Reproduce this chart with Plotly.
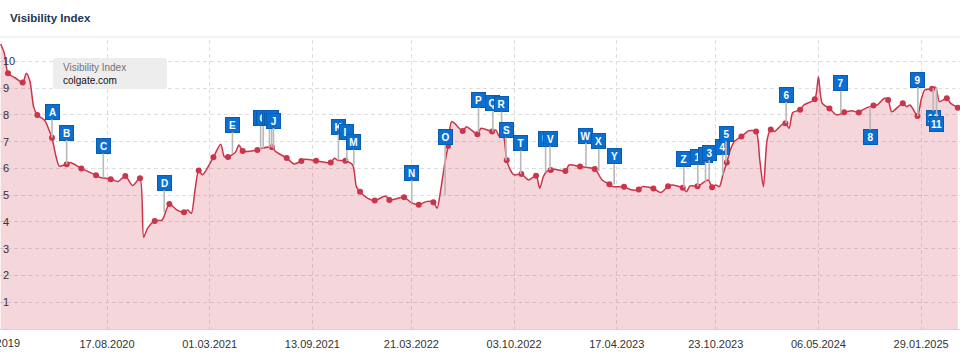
import plotly.graph_objects as go

# ---------------- data ----------------
# x = week index on the chart's (non-linear in time) category-like axis
weeks = [0, 1, 2, 4, 6, 7, 8, 9, 10, 12, 13, 14, 15, 16, 18, 19, 22, 26, 27, 30, 32, 34, 36, 38, 39, 40,
         42, 44, 46, 48, 50, 51, 52, 53, 54, 55, 58, 60, 61, 62, 63, 64, 65, 66, 70, 71, 74, 75, 78, 80,
         82, 83, 86, 90, 91, 92, 94, 96, 97, 98, 100, 102, 105, 106, 110, 112, 114, 116, 118, 119, 120,
         121, 122, 123, 126, 127, 130, 131, 134, 135, 136, 137, 138, 139, 140, 142, 144, 146, 147, 148,
         149, 150, 151, 154, 155, 158, 162, 164, 166, 167, 170, 172, 174, 175, 178, 180, 182, 183, 186,
         187, 188, 190, 192, 193, 194, 195, 196, 197, 198, 199, 200, 202, 204, 206, 207, 208, 209, 210,
         211, 213, 214, 215, 216, 218, 219, 222, 223, 224, 226, 228, 230, 232, 234, 235, 238, 239, 241,
         242, 243, 246, 247, 248, 250, 251, 252, 254, 255, 256, 258, 259, 261]
values = [10.65, 10.3, 9.56, 9.38, 9.21, 9.56, 9.25, 8.3, 8.0, 7.8, 7.5, 7.15, 6.5, 6.09, 6.16, 6.22,
          6.0, 5.75, 5.67, 5.6, 5.51, 5.72, 5.36, 5.63, 3.43, 3.75,
          4.04, 4.07, 4.67, 4.45, 4.36, 4.45, 4.32, 5.2, 5.92, 5.76, 6.42, 6.9, 6.44, 6.43, 6.5, 6.6,
          6.88, 6.65, 6.69, 6.75, 6.79, 6.63, 6.39, 6.17,
          6.28, 6.34, 6.29, 6.22, 6.38, 6.3, 6.29, 6.13, 5.32, 5.13, 4.89, 4.80, 4.97, 4.82, 4.92,
          4.72, 4.64, 4.76, 4.74, 4.51, 5.2,
          6.1, 6.84, 7.75, 7.40, 7.56, 7.28, 7.50, 7.38, 7.44, 7.19, 7.25, 6.31, 5.94, 5.76, 5.79,
          5.57, 5.73, 5.26, 5.7,
          5.9, 5.94, 5.97, 5.90, 6.13, 6.07, 5.98, 5.57, 5.41, 5.32, 5.32, 5.20, 5.21, 5.32, 5.25,
          5.10, 5.33, 5.38, 5.28,
          5.13, 5.35, 5.33, 5.51, 5.57, 5.30, 5.38, 5.32, 5.8, 6.22, 6.7, 7.0, 7.19, 7.41, 7.38,
          6.32, 5.32, 7.07, 7.46,
          7.38, 7.63, 7.69, 7.50, 8.09, 8.19, 8.37, 8.59, 9.43, 8.44, 8.24, 8.0, 8.10, 8.16, 8.09,
          8.19, 8.35, 8.37, 8.62,
          8.56, 8.12, 8.44, 8.31, 8.37, 7.96, 8.56, 8.93, 8.98, 9.03, 8.50, 8.62, 8.44, 8.27]

# weeks that carry a visible data dot
dot_weeks = [2, 6, 10, 14, 18, 22, 26, 30, 34, 38, 42, 46, 50, 54, 58, 62, 66, 70, 74, 78, 82, 86,
             90, 94, 98, 102, 106, 110, 114, 118, 122, 126, 130, 134, 138, 142, 146, 150, 154, 158,
             162, 166, 170, 174, 178, 182, 186, 190, 194, 198, 202, 206, 210, 214, 218, 222, 226,
             230, 234, 238, 242, 246, 250, 254, 258, 261]

# first (cut-off) date label sits just left of the plot edge
first_label = "30.12.2019"
tick_weeks = [29, 57, 85, 112, 140, 168, 195, 223, 251]
tick_labels = ["17.08.2020", "01.03.2021", "13.09.2021", "21.03.2022",
               "03.10.2022", "17.04.2023", "23.10.2023", "06.05.2024", "29.01.2025"]

# event flags: label, anchor week, value on the line, value of the flag box centre
flag_labels = ["A", "B", "C", "D", "E", "F", "G", "H", "I", "J", "K", "L", "M", "N", "O", "P", "Q",
               "R", "S", "T", "U", "V", "W", "X", "Y", "Z", "1", "2", "3", "4", "5", "6", "7", "8",
               "9", "10", "11"]
flag_weeks = [14, 18, 28, 44.6, 63.2, 70.9, 71.6, 73.3, 73.9, 74.4, 92.1, 94.4, 96.3, 112.1, 121.2,
              130.3, 134.2, 136.6, 137.8, 141.8, 148.6, 149.8, 159.6, 163.1, 167.3, 186.3, 190.1,
              192.2, 193.2, 196.9, 197.8, 214.2, 229.1, 237.1, 250.1, 254.3, 255.2]
flag_anchor = [7.15, 6.16, 5.65, 4.35, 6.55, 6.72, 6.75, 6.78, 6.79, 6.75, 6.3, 6.27, 6.1, 4.72, 5.0,
               7.35, 7.38, 7.25, 6.31, 5.79, 5.85, 5.94, 6.05, 5.9, 5.4, 5.28, 5.33, 5.5, 5.57, 5.75,
               6.22, 7.69, 8.06, 8.31, 7.96, 9.0, 9.03]
flag_box = [8.12, 7.34, 6.84, 5.47, 7.63, 7.88, 7.88, 7.88, 7.88, 7.79, 7.56, 7.38, 6.99, 5.84, 7.16,
            8.56, 8.44, 8.40, 7.44, 6.95, 7.11, 7.11, 7.23, 7.02, 6.46, 6.34, 6.42, 6.52, 6.59, 6.80,
            7.30, 8.76, 9.18, 7.17, 9.32, 7.87, 7.66]

# ---------------- styling ----------------
RED = "#c9364b"
FONT = "Arial, 'Liberation Sans', sans-serif"
W, H = 960, 353
ML, MR, MT, MB = 0, 0, 40, 24
PH = H - MT - MB


def px_x(p):
    return p / (W - ML - MR)


def px_y(p):
    return (H - MB - p) / PH


lookup = dict(zip(weeks, values))
dot_vals = [lookup[w] for w in dot_weeks]

fig = go.Figure()
fig.add_trace(go.Scatter(
    x=weeks, y=values, mode="lines",
    line=dict(color=RED, width=1.5, shape="spline", smoothing=0.7),
    fill="tozeroy", fillcolor="rgba(205,50,70,0.2)",
    hoverinfo="skip", showlegend=False))
fig.add_trace(go.Scatter(
    x=dot_weeks, y=dot_vals, mode="markers",
    marker=dict(color=RED, size=6),
    showlegend=False))

annotations = []
for lab, w, a, b in zip(flag_labels, flag_weeks, flag_anchor, flag_box):
    annotations.append(dict(
        x=w, y=a, ax=w, ay=b, xref="x", yref="y", axref="x", ayref="y",
        text="<b>%s</b>" % lab, showarrow=True, arrowhead=0, arrowwidth=1.6,
        arrowcolor="#b9b9b9", standoff=0, startstandoff=0,
        bgcolor="#0b6fd2", bordercolor="#0a5cb0", borderwidth=1, borderpad=1,
        width=11, height=12, align="center", valign="middle",
        font=dict(color="white", size=10, family=FONT)))

# legend-like box texts
annotations.append(dict(x=px_x(61), y=px_y(67.5), xref="paper", yref="paper", xanchor="left",
                        yanchor="middle", showarrow=False, text="Visibility Index",
                        font=dict(size=10, color="#737373", family=FONT)))
annotations.append(dict(x=px_x(61), y=px_y(80.5), xref="paper", yref="paper", xanchor="left",
                        yanchor="middle", showarrow=False, text="colgate.com",
                        font=dict(size=10, color="#111111", family=FONT)))
# cut-off first date label
annotations.append(dict(x=px_x(22), y=px_y(343), xref="paper", yref="paper", xanchor="right",
                        yanchor="middle", showarrow=False, text=first_label,
                        font=dict(size=11, color="#333333", family=FONT)))

# rounded legend box
x0, x1, y0, y1 = px_x(53), px_x(167), px_y(89), px_y(58)
rx, ry = px_x(3), 3 / PH
box_path = (f"M {x0+rx},{y0} L {x1-rx},{y0} Q {x1},{y0} {x1},{y0+ry} L {x1},{y1-ry} "
            f"Q {x1},{y1} {x1-rx},{y1} L {x0+rx},{y1} Q {x0},{y1} {x0},{y1-ry} "
            f"L {x0},{y0+ry} Q {x0},{y0} {x0+rx},{y0} Z")
shapes = [
    dict(type="path", path=box_path, xref="paper", yref="paper",
         fillcolor="rgba(236,236,236,0.95)", line=dict(width=0)),
    dict(type="line", xref="paper", yref="paper", x0=0, x1=1, y0=px_y(37), y1=px_y(37),
         line=dict(color="#e6e6e6", width=1)),
]

fig.update_layout(
    width=W, height=H,
    margin=dict(l=ML, r=MR, t=MT, b=MB),
    paper_bgcolor="white", plot_bgcolor="white",
    font=dict(family=FONT, size=11, color="#333333"),
    title=dict(text="<b>Visibility Index</b>", x=10 / W, xanchor="left", xref="container",
               y=1 - 18 / H, yanchor="middle", yref="container",
               font=dict(size=11.5, color="#1b3655", family=FONT)),
    xaxis=dict(range=[-0.18, 261.6], tickmode="array", tickvals=tick_weeks, ticktext=tick_labels,
               showgrid=True, gridcolor="#dedede", griddash="4px,3px", gridwidth=1,
               zeroline=False, showline=True, linecolor="#dcd0d2", linewidth=1, ticks="",
               ticklabelstandoff=5, tickfont=dict(size=11, color="#333333")),
    yaxis=dict(range=[0, 10.8], tickmode="array", tickvals=list(range(1, 11)),
               ticklabelposition="inside", showgrid=True, gridcolor="#dedede",
               griddash="4px,3px", gridwidth=1, zeroline=False, showline=False, ticks="",
               tickfont=dict(size=11, color="#333333")),
    annotations=annotations, shapes=shapes,
    hovermode=False,
)

fig.write_html("out.html")
